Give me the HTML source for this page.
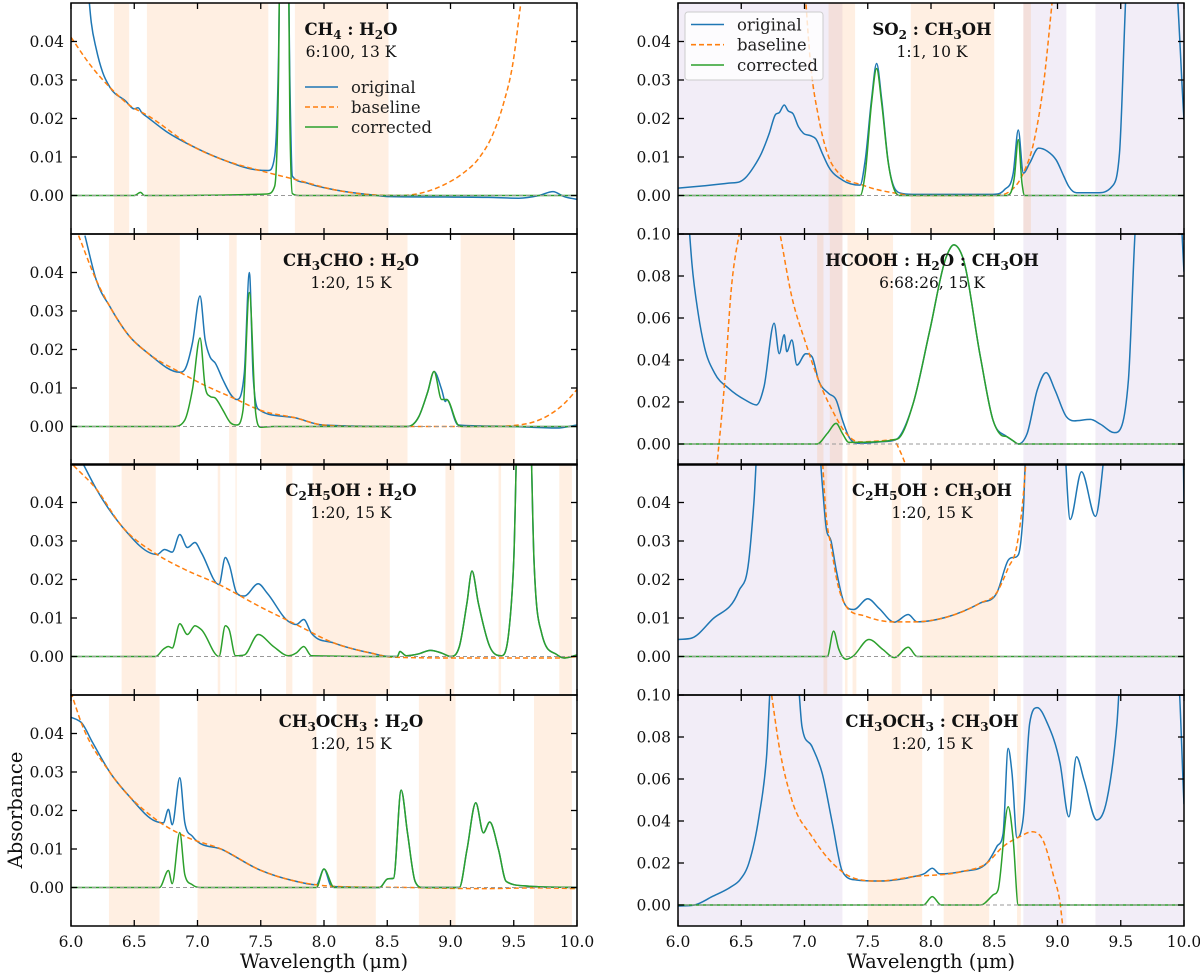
<!DOCTYPE html>
<html><head><meta charset="utf-8">
<style>
html,body{margin:0;padding:0;background:#fff;}
svg{display:block;font-family:"DejaVu Serif","Liberation Serif",serif;}
</style></head>
<body>
<svg id="chart" width="1200" height="974" viewBox="0 0 1200 974" xmlns="http://www.w3.org/2000/svg">
<g id="layer-shade"></g>
<g id="layer-lines"></g>
<g id="layer-axes"></g>

<g font-size="16.5" text-anchor="middle" fill="#111">
  <text x="351" y="35" font-weight="bold">CH<tspan font-size="12" dy="4">4</tspan><tspan dy="-4"> : H</tspan><tspan font-size="12" dy="4">2</tspan><tspan dy="-4">O</tspan></text>
  <text x="351" y="57" font-size="15.5">6:100, 13 K</text>
  <text x="351" y="266" font-weight="bold">CH<tspan font-size="12" dy="4">3</tspan><tspan dy="-4">CHO : H</tspan><tspan font-size="12" dy="4">2</tspan><tspan dy="-4">O</tspan></text>
  <text x="351" y="288" font-size="15.5">1:20, 15 K</text>
  <text x="351" y="496" font-weight="bold">C<tspan font-size="12" dy="4">2</tspan><tspan dy="-4">H</tspan><tspan font-size="12" dy="4">5</tspan><tspan dy="-4">OH : H</tspan><tspan font-size="12" dy="4">2</tspan><tspan dy="-4">O</tspan></text>
  <text x="351" y="518" font-size="15.5">1:20, 15 K</text>
  <text x="351" y="727" font-weight="bold">CH<tspan font-size="12" dy="4">3</tspan><tspan dy="-4">OCH</tspan><tspan font-size="12" dy="4">3</tspan><tspan dy="-4"> : H</tspan><tspan font-size="12" dy="4">2</tspan><tspan dy="-4">O</tspan></text>
  <text x="351" y="749" font-size="15.5">1:20, 15 K</text>

  <text x="932" y="35" font-weight="bold">SO<tspan font-size="12" dy="4">2</tspan><tspan dy="-4"> : CH</tspan><tspan font-size="12" dy="4">3</tspan><tspan dy="-4">OH</tspan></text>
  <text x="932" y="57" font-size="15.5">1:1, 10 K</text>
  <text x="932" y="266" font-weight="bold">HCOOH : H<tspan font-size="12" dy="4">2</tspan><tspan dy="-4">O : CH</tspan><tspan font-size="12" dy="4">3</tspan><tspan dy="-4">OH</tspan></text>
  <text x="932" y="288" font-size="15.5">6:68:26, 15 K</text>
  <text x="932" y="496" font-weight="bold">C<tspan font-size="12" dy="4">2</tspan><tspan dy="-4">H</tspan><tspan font-size="12" dy="4">5</tspan><tspan dy="-4">OH : CH</tspan><tspan font-size="12" dy="4">3</tspan><tspan dy="-4">OH</tspan></text>
  <text x="932" y="518" font-size="15.5">1:20, 15 K</text>
  <text x="932" y="727" font-weight="bold">CH<tspan font-size="12" dy="4">3</tspan><tspan dy="-4">OCH</tspan><tspan font-size="12" dy="4">3</tspan><tspan dy="-4"> : CH</tspan><tspan font-size="12" dy="4">3</tspan><tspan dy="-4">OH</tspan></text>
  <text x="932" y="749" font-size="15.5">1:20, 15 K</text>
</g>

<g font-size="16.5" fill="#222">
  <g><line x1="305" y1="87" x2="338" y2="87" stroke="#1f77b4" stroke-width="1.6"/><text x="351" y="93">original</text></g>
  <g><line x1="305" y1="107" x2="338" y2="107" stroke="#ff7f0e" stroke-width="1.6" stroke-dasharray="5,3"/><text x="351" y="113">baseline</text></g>
  <g><line x1="305" y1="127" x2="338" y2="127" stroke="#2ca02c" stroke-width="1.6"/><text x="351" y="133">corrected</text></g>
</g>
<g font-size="16.5" fill="#222">
  <rect x="685" y="12" width="138" height="68" rx="3" fill="#fff" fill-opacity="0.8" stroke="#ccc" stroke-width="1"/>
  <g><line x1="691" y1="24.5" x2="724" y2="24.5" stroke="#1f77b4" stroke-width="1.6"/><text x="737" y="30.5">original</text></g>
  <g><line x1="691" y1="44.7" x2="724" y2="44.7" stroke="#ff7f0e" stroke-width="1.6" stroke-dasharray="5,3"/><text x="737" y="50.7">baseline</text></g>
  <g><line x1="691" y1="65" x2="724" y2="65" stroke="#2ca02c" stroke-width="1.6"/><text x="737" y="71">corrected</text></g>
</g>

<text x="324" y="968" font-size="19.5" text-anchor="middle" fill="#111">Wavelength (μm)</text>
<text x="931" y="968" font-size="19.5" text-anchor="middle" fill="#111">Wavelength (μm)</text>
<text x="0" y="0" font-size="19.5" text-anchor="middle" fill="#111" transform="translate(22,810) rotate(-90)">Absorbance</text>
</svg>

<script>
// ---------- tick data ----------
const xTicks = [6.0, 6.5, 7.0, 7.5, 8.0, 8.5, 9.0, 9.5, 10.0];
const xTickLabels = ["6.0","6.5","7.0","7.5","8.0","8.5","9.0","9.5","10.0"];
const yTicksSmall = [0, 0.01, 0.02, 0.03, 0.04];
const yTickLabelsSmall = ["0.00","0.01","0.02","0.03","0.04"];
const yTicksLarge = [0, 0.02, 0.04, 0.06, 0.08, 0.10];
const yTickLabelsLarge = ["0.00","0.02","0.04","0.06","0.08","0.10"];

// ---------- shaded regions [start, end] in µm ----------
const shadeOrange_ch4 = [[6.34,6.46],[6.60,7.56],[7.77,8.51]];
const shadeOrange_ch3cho = [[6.30,6.86],[7.25,7.31],[7.50,8.66],[9.08,9.51]];
const shadeOrange_c2h5oh = [[6.40,6.67],[7.16,7.18],[7.30,7.31],[7.70,7.75],[7.91,8.52],[8.96,9.03],[9.38,9.40],[9.86,9.96]];
const shadeOrange_ch3och3 = [[6.30,6.70],[7.00,7.94],[8.10,8.41],[8.75,9.04],[9.66,9.96]];
const shadePurple_methanol = [[6.0,7.30],[8.73,9.07],[9.30,10.0]];
const shadeOrange_so2 = [[7.19,7.30],[7.30,7.40],[7.84,8.50],[8.73,8.79]];
const shadeOrange_hcooh = [[7.10,7.15],[7.20,7.30],[7.34,7.70]];
const shadeOrange_c2h5oh_m = [[7.15,7.18],[7.32,7.34],[7.38,7.41],[7.69,7.76],[7.93,8.53]];
const shadeOrange_ch3och3_m = [[7.50,7.93],[8.10,8.46],[8.68,8.71]];

// ---------- series: [wavelength µm, absorbance] ----------
const ch4_original = [[6.12,0.06],[6.16,0.045],[6.20,0.038],[6.25,0.032],[6.31,0.028],[6.43,0.0246],[6.50,0.0225],[6.53,0.0228],[6.56,0.0215],[6.61,0.0202],[6.75,0.0167],[6.96,0.0128],[7.20,0.0093],[7.46,0.0067],[7.56,0.0065],[7.61,0.0102],[7.64,0.035],[7.66,0.08],[7.71,0.08],[7.73,0.03],[7.75,0.005],[7.87,0.0032],[8.08,0.0015],[8.37,0.0002],[8.52,-0.0003],[8.96,-0.0004],[9.30,-0.0005],[9.54,-0.0007],[9.70,0.0],[9.81,0.001],[9.90,-0.0003],[10.0,-0.001]];
const ch4_baseline = [[6.0,0.0411],[6.15,0.034],[6.31,0.028],[6.46,0.0235],[6.61,0.0207],[6.96,0.0128],[7.20,0.0093],[7.49,0.0065],[7.78,0.0041],[8.08,0.0015],[8.37,0.0002],[8.60,0.0],[8.81,0.001],[8.95,0.0028],[9.10,0.0058],[9.22,0.0095],[9.34,0.0163],[9.42,0.024],[9.49,0.0337],[9.56,0.051]];
const ch4_corrected = [[6.0,0],[6.50,0],[6.55,0.0008],[6.58,0],[7.55,0.0004],[7.61,0.0024],[7.64,0.03],[7.66,0.09],[7.71,0.09],[7.73,0.02],[7.75,0.0005],[7.80,0],[10.0,0]];

const ch3cho_original = [[6.11,0.0496],[6.20,0.038],[6.31,0.031],[6.46,0.0235],[6.61,0.019],[6.86,0.0141],[6.90,0.0148],[6.96,0.0217],[7.02,0.0339],[7.06,0.0226],[7.10,0.018],[7.14,0.0165],[7.20,0.0122],[7.27,0.008],[7.31,0.007],[7.37,0.0139],[7.41,0.040],[7.44,0.013],[7.49,0.0043],[7.78,0.0022],[7.99,0.0004],[8.66,0.0],[8.75,0.0026],[8.82,0.009],[8.87,0.0143],[8.93,0.0096],[8.96,0.0065],[8.97,0.007],[9.06,0.0004],[9.50,0.0],[9.84,-0.0004],[10.0,0.0004]];
const ch3cho_baseline = [[6.06,0.0496],[6.20,0.038],[6.31,0.031],[6.46,0.0235],[6.61,0.019],[6.86,0.0141],[7.02,0.0113],[7.31,0.007],[7.49,0.0043],[7.78,0.0022],[7.99,0.0004],[8.37,0.0],[9.25,0.0],[9.54,0.0004],[9.66,0.0012],[9.78,0.003],[9.90,0.006],[10.0,0.0096]];
const ch3cho_corrected = [[6.0,0],[6.81,0],[6.90,0.0017],[6.96,0.0096],[7.02,0.023],[7.06,0.0104],[7.10,0.0078],[7.14,0.0074],[7.20,0.0043],[7.26,0.001],[7.31,0.0004],[7.36,0.0043],[7.41,0.0348],[7.46,0.0035],[7.50,-0.0002],[7.60,0],[8.66,0],[8.75,0.0026],[8.82,0.009],[8.87,0.0143],[8.93,0.007],[8.97,0.007],[9.06,0.0004],[9.10,0],[10.0,0]];

const c2h5oh_original = [[6.09,0.0504],[6.20,0.0435],[6.40,0.0339],[6.68,0.0265],[6.74,0.0278],[6.80,0.0271],[6.86,0.0317],[6.92,0.0283],[6.98,0.0296],[7.03,0.027],[7.17,0.0187],[7.22,0.0257],[7.25,0.0239],[7.31,0.0165],[7.37,0.0157],[7.48,0.0189],[7.55,0.0165],[7.72,0.0091],[7.78,0.0083],[7.84,0.0096],[7.90,0.0061],[8.08,0.0035],[8.37,0.0009],[8.52,0.0],[8.58,0],[8.60,0.0013],[8.65,0.0002],[8.75,0.0007],[8.84,0.0016],[8.93,0.0009],[9.00,0],[9.07,0.0026],[9.13,0.0139],[9.17,0.0222],[9.22,0.0139],[9.31,0.0026],[9.40,0.0002],[9.46,0.0061],[9.50,0.025],[9.54,0.07],[9.62,0.07],[9.66,0.025],[9.72,0.0061],[9.84,0.0005],[9.90,-0.0004],[10.0,0.0004]];
const c2h5oh_baseline = [[6.02,0.0496],[6.20,0.0435],[6.40,0.0339],[6.68,0.0265],[6.90,0.0226],[7.17,0.0187],[7.49,0.013],[7.78,0.0083],[8.08,0.0035],[8.37,0.0009],[8.55,-0.0002],[9.25,-0.0004],[9.84,-0.0004],[10.0,0.0]];
const c2h5oh_corrected = [[6.0,0],[6.67,0],[6.73,0.0019],[6.77,0.0026],[6.80,0.0022],[6.86,0.0085],[6.92,0.0057],[6.98,0.008],[7.03,0.007],[7.17,0.0],[7.22,0.008],[7.25,0.007],[7.30,0.0002],[7.37,0.0004],[7.48,0.0057],[7.60,0.0026],[7.72,0.0002],[7.78,0.0009],[7.84,0.0026],[7.90,0.0002],[8.58,0],[8.60,0.0013],[8.65,0.0002],[8.75,0.0007],[8.84,0.0016],[8.93,0.0009],[9.00,0],[9.07,0.0026],[9.13,0.0139],[9.17,0.0222],[9.22,0.0139],[9.31,0.0026],[9.40,0.0002],[9.46,0.0061],[9.50,0.025],[9.54,0.07],[9.62,0.07],[9.66,0.025],[9.72,0.0061],[9.84,0.0005],[9.90,-0.0004],[10.0,0.0004]];

const ch3och3_original = [[6.0,0.0442],[6.04,0.0437],[6.08,0.0429],[6.17,0.0377],[6.31,0.0298],[6.46,0.0237],[6.67,0.0172],[6.73,0.0168],[6.77,0.0203],[6.80,0.0163],[6.86,0.0285],[6.90,0.0168],[6.96,0.0133],[7.20,0.0098],[7.49,0.0046],[7.78,0.0016],[7.94,0.0007],[8.00,0.0048],[8.06,0.0003],[8.44,0.0],[8.50,0.0022],[8.55,0.0024],[8.61,0.0253],[8.66,0.0142],[8.72,0.0016],[8.78,0],[9.07,0],[9.13,0.0098],[9.20,0.022],[9.26,0.0142],[9.31,0.017],[9.38,0.0098],[9.44,0.0016],[9.60,0.0004],[10.0,0]];
const ch3och3_baseline = [[6.0,0.0507],[6.08,0.0429],[6.31,0.0298],[6.67,0.0177],[6.90,0.0133],[7.20,0.0098],[7.49,0.0046],[7.78,0.0016],[8.08,0.0003],[8.66,0.0],[9.25,-0.0003],[9.69,-0.0001],[10.0,-0.0003]];
const ch3och3_corrected = [[6.0,0],[6.70,0],[6.77,0.0044],[6.80,0.001],[6.86,0.0143],[6.90,0.0033],[6.96,0.0007],[7.02,0],[7.94,0],[8.00,0.0048],[8.08,0],[8.44,0],[8.50,0.0022],[8.55,0.0024],[8.61,0.0253],[8.66,0.0142],[8.72,0.0016],[8.78,0],[9.07,0],[9.13,0.0098],[9.20,0.022],[9.26,0.0142],[9.31,0.017],[9.38,0.0098],[9.44,0.0016],[9.60,0.0004],[10.0,0]];

const so2_original = [[6.0,0.0019],[6.20,0.0025],[6.40,0.0032],[6.49,0.0036],[6.53,0.0045],[6.60,0.0075],[6.66,0.011],[6.72,0.016],[6.77,0.021],[6.80,0.0215],[6.84,0.0235],[6.87,0.022],[6.91,0.0212],[6.95,0.018],[6.99,0.0162],[7.05,0.0155],[7.09,0.0147],[7.14,0.011],[7.19,0.0075],[7.30,0.004],[7.44,0.0027],[7.48,0.0092],[7.53,0.025],[7.57,0.0343],[7.61,0.025],[7.66,0.0092],[7.75,0.0007],[7.86,0.0003],[8.49,0.0003],[8.58,0.0015],[8.65,0.0058],[8.69,0.017],[8.73,0.0058],[8.78,0.0084],[8.85,0.0123],[8.92,0.0115],[8.99,0.0092],[9.05,0.005],[9.09,0.0023],[9.15,0.0007],[9.31,0.0007],[9.43,0.0023],[9.49,0.011],[9.56,0.06],[9.92,0.06],[10.0,0.0196]];
const so2_baseline = [[6.99,0.06],[7.05,0.0335],[7.11,0.0205],[7.19,0.0101],[7.27,0.0058],[7.46,0.0027],[7.72,0.0006],[7.86,0],[8.49,0],[8.62,0.001],[8.73,0.0058],[8.81,0.0135],[8.89,0.029],[8.96,0.051]];
const so2_corrected = [[6.0,0],[7.44,0],[7.48,0.0058],[7.53,0.024],[7.57,0.033],[7.61,0.024],[7.66,0.009],[7.75,0],[8.60,0],[8.66,0.005],[8.69,0.0145],[8.72,0.003],[8.74,0],[10.0,0]];

const hcooh_original = [[6.08,0.11],[6.11,0.086],[6.16,0.062],[6.21,0.046],[6.29,0.0337],[6.40,0.0265],[6.53,0.021],[6.62,0.0186],[6.68,0.0273],[6.76,0.0575],[6.80,0.043],[6.84,0.052],[6.86,0.044],[6.90,0.0495],[6.94,0.0376],[7.01,0.043],[7.06,0.0415],[7.11,0.0305],[7.19,0.0241],[7.25,0.021],[7.30,0.0114],[7.35,0.0035],[7.43,0.0003],[7.59,0.001],[7.72,0.002],[7.86,0.0195],[7.99,0.054],[8.12,0.089],[8.18,0.0948],[8.25,0.089],[8.39,0.0416],[8.49,0.0114],[8.60,0.0035],[8.65,0.0015],[8.69,0],[8.76,0.005],[8.84,0.0257],[8.91,0.034],[8.98,0.0257],[9.07,0.013],[9.13,0.011],[9.26,0.0117],[9.34,0.0094],[9.45,0.0054],[9.51,0.009],[9.56,0.030],[9.63,0.11],[9.97,0.11],[10.0,0.082]];
const hcooh_baseline = [[6.30,-0.015],[6.37,0.0305],[6.42,0.073],[6.49,0.102],[6.60,0.13],[6.72,0.125],[6.80,0.102],[6.90,0.070],[7.01,0.048],[7.11,0.0305],[7.22,0.016],[7.33,0.005],[7.43,0.001],[7.60,0.0015],[7.70,0.002],[7.76,-0.004],[7.83,-0.015]];
const hcooh_corrected = [[6.0,0],[7.10,0],[7.18,0.005],[7.25,0.0098],[7.30,0.005],[7.35,0.0008],[7.55,0.001],[7.70,0.002],[7.75,0.003],[7.86,0.0195],[7.99,0.054],[8.12,0.089],[8.18,0.0948],[8.25,0.089],[8.39,0.0416],[8.49,0.0114],[8.56,0.004],[8.60,0.0035],[8.65,0.0015],[8.69,0],[10.0,0]];

const c2h5oh_m_original = [[6.0,0.0044],[6.11,0.0048],[6.27,0.0096],[6.48,0.017],[6.56,0.025],[6.60,0.04],[6.64,0.06],[7.10,0.06],[7.14,0.045],[7.17,0.0338],[7.21,0.030],[7.25,0.0226],[7.32,0.0135],[7.39,0.0122],[7.50,0.015],[7.59,0.0125],[7.71,0.0089],[7.82,0.0109],[7.89,0.009],[8.12,0.0102],[8.39,0.0139],[8.52,0.0165],[8.61,0.025],[8.69,0.0264],[8.73,0.038],[8.76,0.06],[9.04,0.06],[9.10,0.0356],[9.19,0.048],[9.30,0.0364],[9.41,0.06],[9.99,0.06],[10.0,0.04]];
const c2h5oh_m_baseline = [[7.14,0.052],[7.17,0.037],[7.21,0.0286],[7.26,0.0192],[7.33,0.013],[7.48,0.0105],[7.70,0.009],[7.86,0.009],[8.12,0.0102],[8.39,0.0139],[8.52,0.0166],[8.61,0.023],[8.68,0.029],[8.73,0.042],[8.76,0.055]];
const c2h5oh_m_corrected = [[6.0,0],[7.18,0],[7.23,0.0066],[7.27,0.002],[7.33,-0.0007],[7.38,0],[7.51,0.0044],[7.62,0.0018],[7.71,-0.0003],[7.82,0.0024],[7.89,0],[10.0,0]];

const ch3och3_m_original = [[6.0,-0.0005],[6.13,0],[6.27,0.004],[6.42,0.0087],[6.49,0.012],[6.56,0.0199],[6.64,0.042],[6.70,0.0706],[6.74,0.11],[6.94,0.11],[6.98,0.085],[7.06,0.0754],[7.14,0.0627],[7.22,0.039],[7.30,0.0159],[7.41,0.0119],[7.59,0.0114],[7.86,0.0135],[7.95,0.015],[8.01,0.0175],[8.07,0.0148],[8.25,0.016],[8.44,0.0199],[8.52,0.0278],[8.57,0.034],[8.61,0.0746],[8.64,0.063],[8.68,0.032],[8.73,0.042],[8.78,0.0865],[8.84,0.094],[8.92,0.0865],[9.02,0.0675],[9.09,0.042],[9.15,0.0706],[9.21,0.0595],[9.31,0.0405],[9.39,0.050],[9.47,0.0865],[9.50,0.11],[9.95,0.11],[10.0,0.048]];
const ch3och3_m_baseline = [[6.74,0.10],[6.80,0.0754],[6.90,0.050],[7.06,0.0325],[7.22,0.020],[7.38,0.013],[7.59,0.0114],[7.86,0.0135],[8.25,0.016],[8.44,0.0199],[8.57,0.0278],[8.70,0.0325],[8.80,0.0349],[8.89,0.0302],[8.97,0.0135],[9.02,0.001],[9.05,-0.015]];
const ch3och3_m_corrected = [[6.0,0],[7.94,0],[8.01,0.004],[8.08,0],[8.39,0],[8.49,0.0048],[8.53,0.0072],[8.61,0.0468],[8.65,0.031],[8.69,0],[10.0,0]];

// ---------- panels ----------
const panels = [
  {name:'panel-ch4-h2o', x0:71, top:3, ymin:-0.01, ymax:0.05, orange:shadeOrange_ch4, purple:[], o:ch4_original, b:ch4_baseline, c:ch4_corrected, bottom:false},
  {name:'panel-ch3cho-h2o', x0:71, top:234, ymin:-0.01, ymax:0.05, orange:shadeOrange_ch3cho, purple:[], o:ch3cho_original, b:ch3cho_baseline, c:ch3cho_corrected, bottom:false},
  {name:'panel-c2h5oh-h2o', x0:71, top:464, ymin:-0.01, ymax:0.05, orange:shadeOrange_c2h5oh, purple:[], o:c2h5oh_original, b:c2h5oh_baseline, c:c2h5oh_corrected, bottom:false},
  {name:'panel-ch3och3-h2o', x0:71, top:695, ymin:-0.01, ymax:0.05, orange:shadeOrange_ch3och3, purple:[], o:ch3och3_original, b:ch3och3_baseline, c:ch3och3_corrected, bottom:true},
  {name:'panel-so2-ch3oh', x0:678, top:3, ymin:-0.01, ymax:0.05, orange:shadeOrange_so2, purple:shadePurple_methanol, o:so2_original, b:so2_baseline, c:so2_corrected, bottom:false},
  {name:'panel-hcooh-h2o-ch3oh', x0:678, top:234, ymin:-0.01, ymax:0.10, orange:shadeOrange_hcooh, purple:shadePurple_methanol, o:hcooh_original, b:hcooh_baseline, c:hcooh_corrected, bottom:false},
  {name:'panel-c2h5oh-ch3oh', x0:678, top:464, ymin:-0.01, ymax:0.05, orange:shadeOrange_c2h5oh_m, purple:shadePurple_methanol, o:c2h5oh_m_original, b:c2h5oh_m_baseline, c:c2h5oh_m_corrected, bottom:false},
  {name:'panel-ch3och3-ch3oh', x0:678, top:695, ymin:-0.01, ymax:0.10, orange:shadeOrange_ch3och3_m, purple:shadePurple_methanol, o:ch3och3_m_original, b:ch3och3_m_baseline, c:ch3och3_m_corrected, bottom:true}
];
const PW = 506, PH = 231, XMIN = 6.0, XMAX = 10.0;
const NS = 'http://www.w3.org/2000/svg';
const svg = document.getElementById('chart');
const defs = document.createElementNS(NS,'defs');
svg.insertBefore(defs, svg.firstChild);
const shadeL = document.getElementById('layer-shade');
const lineL = document.getElementById('layer-lines');
const axL = document.getElementById('layer-axes');

function mk(tag, attrs, parent){
  const e = document.createElementNS(NS, tag);
  for (const k in attrs) e.setAttribute(k, attrs[k]);
  parent.appendChild(e);
  return e;
}
function xScale(p, v){ return p.x0 + (v - XMIN) / (XMAX - XMIN) * PW; }
function yScale(p, v){ return p.top + PH - (v - p.ymin) / (p.ymax - p.ymin) * PH; }
function pathFor(p, pts){
  // monotone cubic interpolation in x (no overshoot, no loops)
  const P = pts.map(d => [xScale(p, d[0]), yScale(p, d[1])]);
  const n = P.length;
  if (n < 2) return '';
  const h = [], s = [];
  for (let i = 0; i < n - 1; i++){
    h.push(P[i+1][0] - P[i][0]);
    s.push(h[i] ? (P[i+1][1] - P[i][1]) / h[i] : 0);
  }
  const t = new Array(n);
  t[0] = s[0]; t[n-1] = s[n-2];
  for (let i = 1; i < n - 1; i++){
    if (s[i-1] * s[i] <= 0) t[i] = 0;
    else {
      const v = (s[i-1] * h[i] + s[i] * h[i-1]) / (h[i-1] + h[i]);
      t[i] = Math.sign(v) * Math.min(Math.abs(v), 3 * Math.min(Math.abs(s[i-1]), Math.abs(s[i])));
    }
  }
  let d = 'M' + P[0][0].toFixed(2) + ',' + P[0][1].toFixed(2);
  for (let i = 0; i < n - 1; i++){
    const dx = h[i] / 3;
    d += 'C' + (P[i][0] + dx).toFixed(2) + ',' + (P[i][1] + t[i] * dx).toFixed(2) + ' ' +
         (P[i+1][0] - dx).toFixed(2) + ',' + (P[i+1][1] - t[i+1] * dx).toFixed(2) + ' ' +
         P[i+1][0].toFixed(2) + ',' + P[i+1][1].toFixed(2);
  }
  return d;
}

panels.forEach((p, idx) => {
  const cp = mk('clipPath', {id:'clip' + idx}, defs);
  mk('rect', {x:p.x0, y:p.top, width:PW, height:PH}, cp);

  const sg = mk('g', {'clip-path':'url(#clip' + idx + ')'}, shadeL);
  
  
  p.purple.forEach(r => {
    const e = mk('rect', {x:xScale(p, r[0]), y:p.top, width:xScale(p, r[1]) - xScale(p, r[0]), height:PH, fill:'#9467bd', 'fill-opacity':0.12}, sg);
    
    
  });
  p.orange.forEach(r => {
    const e = mk('rect', {x:xScale(p, r[0]), y:p.top, width:xScale(p, r[1]) - xScale(p, r[0]), height:PH, fill:'#ff7f0e', 'fill-opacity':0.12}, sg);
    
    
  });

  const lg = mk('g', {'clip-path':'url(#clip' + idx + ')', fill:'none'}, lineL);
  
  
  const lo = mk('path', {d:pathFor(p, p.o), stroke:'#1f77b4', 'stroke-width':1.5, 'stroke-linejoin':'round'}, lg);
  
  
  const lb = mk('path', {d:pathFor(p, p.b), stroke:'#ff7f0e', 'stroke-width':1.5, 'stroke-dasharray':'5,3'}, lg);
  
  
  const lc = mk('path', {d:pathFor(p, p.c), stroke:'#2ca02c', 'stroke-width':1.5, 'stroke-linejoin':'round'}, lg);
  
  
  const z = mk('line', {x1:p.x0, x2:p.x0 + PW, y1:yScale(p, 0), y2:yScale(p, 0), stroke:'#999', 'stroke-width':1, 'stroke-dasharray':'4,3'}, lg);
  
  

  const ag = mk('g', {}, axL);
  
  
  const fr = mk('rect', {x:p.x0, y:p.top, width:PW, height:PH, fill:'none', stroke:'#000', 'stroke-width':1.5}, ag);
  
  
  xTicks.forEach((t, i) => {
    const x = xScale(p, t);
    mk('line', {x1:x, x2:x, y1:p.top + PH, y2:p.top + PH - 6, stroke:'#000', 'stroke-width':1.3}, ag);
    mk('line', {x1:x, x2:x, y1:p.top, y2:p.top + 6, stroke:'#000', 'stroke-width':1.3}, ag);
    if (p.bottom){
      const tx = mk('text', {x:x, y:p.top + PH + 21, 'font-size':15.5, 'text-anchor':'middle', fill:'#111'}, ag);
      tx.textContent = xTickLabels[i];
      
      
    }
  });
  const big = p.ymax > 0.06;
  const yt = big ? yTicksLarge : yTicksSmall;
  const yl = big ? yTickLabelsLarge : yTickLabelsSmall;
  yt.forEach((t, i) => {
    const y = yScale(p, t);
    mk('line', {x1:p.x0, x2:p.x0 + 6, y1:y, y2:y, stroke:'#000', 'stroke-width':1.3}, ag);
    mk('line', {x1:p.x0 + PW, x2:p.x0 + PW - 6, y1:y, y2:y, stroke:'#000', 'stroke-width':1.3}, ag);
    const tx = mk('text', {x:p.x0 - 7, y:y + 5.5, 'font-size':15.5, 'text-anchor':'end', fill:'#111'}, ag);
    tx.textContent = yl[i];
    
    
  });
});
</script>
</body></html>
